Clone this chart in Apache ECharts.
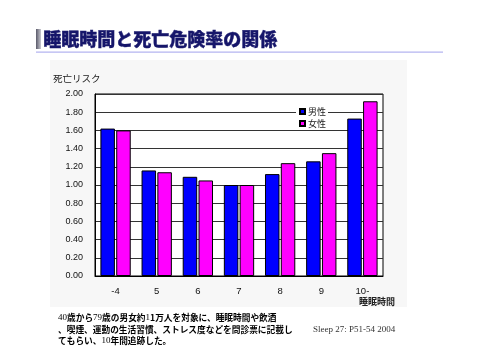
<!DOCTYPE html>
<html><head><meta charset="utf-8">
<script src="https://cdn.jsdelivr.net/npm/echarts@6/dist/echarts.min.js"></script>
<style>html,body{margin:0;padding:0;background:#fff}#c{width:480px;height:360px}</style>
</head><body><div id="c"></div>
<script>
const categories = ['-4', '5', '6', '7', '8', '9', '10-'];
const male = [1.62, 1.16, 1.09, 1.00, 1.12, 1.26, 1.73];
const female = [1.60, 1.14, 1.05, 1.00, 1.24, 1.35, 1.92];
const seriesNames = ['男性', '女性'];
const yTicks = { min: 0, max: 2, interval: 0.2 };

const cjk = '"Noto Sans CJK JP", "Noto Sans", sans-serif';
const chart = echarts.init(document.getElementById('c'), null, { renderer: 'canvas' });
chart.setOption({
  animation: false,
  backgroundColor: '#fff',
  graphic: [
    { type: 'rect', silent: true, z: -10, shape: { x: 50, y: 60, width: 357, height: 247 }, style: { fill: '#f7f7f7' } },
    { type: 'rect', shape: { x: 36, y: 29, width: 5, height: 20 },
      style: { fill: new echarts.graphic.LinearGradient(0, 0, 1, 0, [{ offset: 0, color: '#5a5a6a' }, { offset: 1, color: '#c8c8d0' }]) } },
    { type: 'rect', shape: { x: 36, y: 51.5, width: 407, height: 1.2 }, style: { fill: '#b4b4f0' } },
    { type: 'text', left: 43, top: 29.5, style: { text: '睡眠時間と死亡危険率の関係', font: '900 18px ' + cjk, fill: '#16166a', stroke: '#16166a', lineWidth: 0.4 } },
    { type: 'text', left: 53, top: 74, style: { text: '死亡リスク', font: '9.5px ' + cjk, fill: '#222' } },
    { type: 'text', left: 359, top: 297, style: { text: '睡眠時間', font: 'bold 9px ' + cjk, fill: '#222' } },
    { type: 'text', left: 58, top: 312, style: {
        text: '{s|40}歳から{s|79}歳の男女約{s|1}1万人を対象に、睡眠時間や飲酒\n、喫煙、運動の生活習慣、ストレス度などを問診票に記載し\nてもらい、{s|10}年間追跡した。',
        font: 'bold 8.7px ' + cjk, fill: '#000', lineHeight: 11.5,
        rich: { s: { fontFamily: '"Liberation Serif", serif', fontWeight: 'normal', fontSize: 9, lineHeight: 11.5 } } } },
    { type: 'text', left: 313, top: 325, style: { text: 'Sleep 27: P51-54 2004', font: '9px "Liberation Serif", serif', fill: '#333' } }
  ],
  legend: {
    data: seriesNames, orient: 'vertical', left: 296, top: 106,
    itemWidth: 5, itemHeight: 5, itemGap: 3,
    backgroundColor: '#fff', padding: [1, 2, 1, 3],
    icon: 'rect',
    textStyle: { fontSize: 9, fontFamily: cjk, color: '#222', padding: [0, 0, 0, -2] }
  },
  grid: { left: 95, right: 97, top: 94, bottom: 84, show: true, backgroundColor: '#fff', borderColor: '#000', borderWidth: 1 },
  xAxis: {
    type: 'category', data: categories,
    axisLine: { lineStyle: { color: '#000' } },
    axisTick: { inside: true, length: 3, lineStyle: { color: '#000' } },
    axisLabel: { fontSize: 9.5, color: '#111', margin: 10, fontFamily: 'Liberation Sans, Arial, sans-serif' }
  },
  yAxis: {
    type: 'value', min: yTicks.min, max: yTicks.max, interval: yTicks.interval,
    axisLine: { show: true, lineStyle: { color: '#000' } },
    axisTick: { show: false },
    splitLine: { lineStyle: { color: '#333', width: 1 } },
    axisLabel: { fontSize: 9, color: '#111', margin: 12, fontFamily: 'Liberation Sans, Arial, sans-serif',
      formatter: v => v.toFixed(2) }
  },
  series: [
    { name: seriesNames[0], type: 'bar', data: male, barWidth: 14.5, barGap: '9%',
      itemStyle: { color: '#0000ff', borderColor: '#000', borderWidth: 1 } },
    { name: seriesNames[1], type: 'bar', data: female, barWidth: 14.5,
      itemStyle: { color: '#ff00ff', borderColor: '#000', borderWidth: 1 } }
  ]
});
</script></body></html>
